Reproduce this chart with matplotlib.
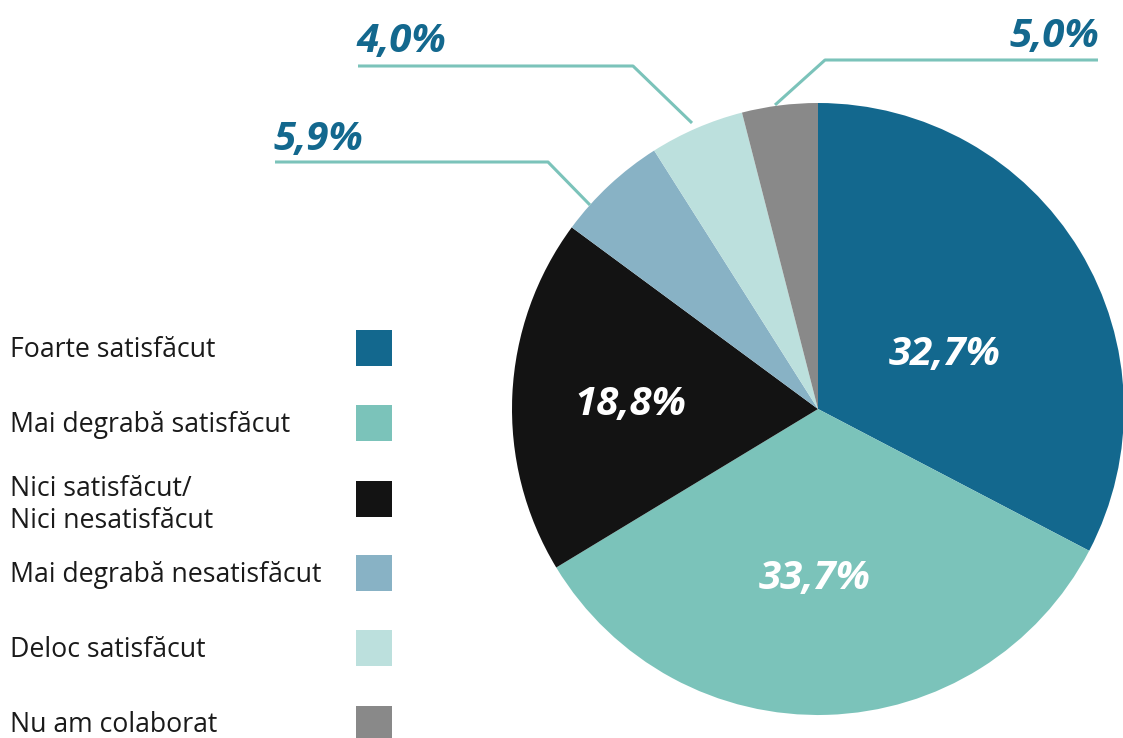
import matplotlib
matplotlib.use("Agg")
import matplotlib.pyplot as plt
from matplotlib.patches import Rectangle

categories = ["Foarte satisfăcut", "Mai degrabă satisfăcut", "Nici satisfăcut/\nNici nesatisfăcut",
              "Mai degrabă nesatisfăcut", "Deloc satisfăcut", "Nu am colaborat"]
values = [32.7, 33.7, 18.8, 5.9, 5.0, 4.0]
colors = ["#13688e", "#7bc3ba", "#131313", "#88b2c5", "#bce0dd", "#898989"]
# label texts as printed on the chart
inner_labels = ["32,7%", "33,7%", "18,8%"]
outer_labels = ["5,9%", "4,0%", "5,0%"]

W, H = 1123, 738
fig = plt.figure(figsize=(W / 100, H / 100), dpi=100)
ax = fig.add_axes([0, 0, 1, 1])

cx, cy, r = 818, H - 409, 306
wedges, _ = ax.pie(values, colors=colors, startangle=90, counterclock=False,
                   center=(cx, cy), radius=r, frame=True,
                   wedgeprops=dict(linewidth=0))
ax.set_xlim(0, W)
ax.set_ylim(0, H)
ax.set_aspect("equal")
ax.axis("off")

font = "Open Sans"
lab_color = "#13688e"
line_color = "#7bc3ba"

# inner labels
inner_pos = [(945, 355), (815, 578), (630, 404)]
for txt, (x, y) in zip(inner_labels, inner_pos):
    ax.text(x, H - y, txt, ha="center", va="center", color="white", fontsize=29,
            fontfamily=font, fontweight="bold", fontstyle="italic")

# outer labels with leader lines (pixel layout of the reference)
outer = [
    dict(text=(273, 150), line=[(275, 162), (548, 162), (590, 205)], ha="left"),
    dict(text=(356, 52), line=[(358, 66), (633, 66), (692, 123)], ha="left"),
    dict(text=(1099, 47), line=[(1098, 60), (825, 60), (775, 105)], ha="right"),
]
for txt, o in zip(outer_labels, outer):
    xs = [p[0] for p in o["line"]]
    ys = [H - p[1] for p in o["line"]]
    ax.plot(xs, ys, color=line_color, lw=2.2, solid_capstyle="butt")
    ax.text(o["text"][0], H - o["text"][1], txt, ha=o["ha"], va="baseline", color=lab_color,
            fontsize=29, fontfamily=font, fontweight="bold", fontstyle="italic")

# legend
rows_center = [348, 423, 499, 573, 648, 724]
rows_baseline = [357, 432, 496, 582, 657, 732]
line_gap = 32
for cat, col, yc, yb in zip(categories, colors, rows_center, rows_baseline):
    ax.add_patch(Rectangle((356, H - yc - 18), 36, 36, facecolor=col, edgecolor="none"))
    for i, line in enumerate(cat.split("\n")):
        ax.text(10, H - (yb + i * line_gap), line, ha="left", va="baseline", color="#1a1a1a",
                fontsize=19.2, fontfamily=font)

fig.savefig("out.png", dpi=100)
